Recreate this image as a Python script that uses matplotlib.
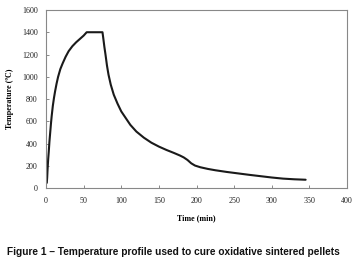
import matplotlib.pyplot as plt

# temperature profile
time_min = [1, 1.5, 2, 2.8, 3.6, 4.5, 5.5, 6.5, 7.5, 9, 10.5, 12, 14, 16, 19, 22, 26,
            30, 35, 40, 45, 50, 54, 75,
            76, 77.5, 79, 81, 83, 86, 90, 95, 100, 106, 112, 120, 130, 140, 150,
            160, 170, 178, 183, 188, 193, 198, 205, 215, 225, 240, 255, 270, 285,
            300, 315, 330, 345]
temp_c = [50, 100, 170, 260, 330, 420, 500, 580, 650, 740, 810, 870, 940, 1000, 1070, 1120, 1180,
          1230, 1275, 1310, 1340, 1370, 1400, 1400,
          1350, 1270, 1200, 1100, 1020, 930, 840, 760, 690, 630, 570, 510, 455, 410, 375,
          345, 318, 295, 278, 255, 225, 205, 190, 175, 163, 148, 135, 122, 110,
          98, 88, 82, 78]

x_ticks = [0, 50, 100, 150, 200, 250, 300, 350, 400]
y_ticks = [0, 200, 400, 600, 800, 1000, 1200, 1400, 1600]

serif = 'Liberation Serif'

fig = plt.figure(figsize=(3.57, 2.61), dpi=100)
ax = fig.add_axes([0.129, 0.278, 0.843, 0.684])
ax.plot(time_min, temp_c, color='#1a1a1a', lw=1.5, solid_capstyle='round',
        solid_joinstyle='round')

ax.set_xlim(0, 400)
ax.set_ylim(0, 1600)
ax.set_xticks(x_ticks)
ax.set_yticks(y_ticks)
ax.tick_params(direction='in', length=2, width=0.6, color='#777777',
               labelsize=5.8, pad=6, labelcolor='#222222')
for lab in ax.get_xticklabels() + ax.get_yticklabels():
    lab.set_fontfamily(serif)
for sp in ax.spines.values():
    sp.set_color('#888888')
    sp.set_linewidth(0.8)

ax.set_xlabel('Time (min)', fontfamily=serif, fontweight='bold', fontsize=5.8, labelpad=7)
ax.set_ylabel('Temperature (ºC)', fontfamily=serif, fontweight='bold', fontsize=5.8, labelpad=6)

fig.text(0.02, 0.022, 'Figure 1 – Temperature profile used to cure oxidative sintered pellets',
         fontfamily='Liberation Sans', fontweight='bold', fontsize=7.3, color='#111111')

fig.savefig('out.png', dpi=100)
